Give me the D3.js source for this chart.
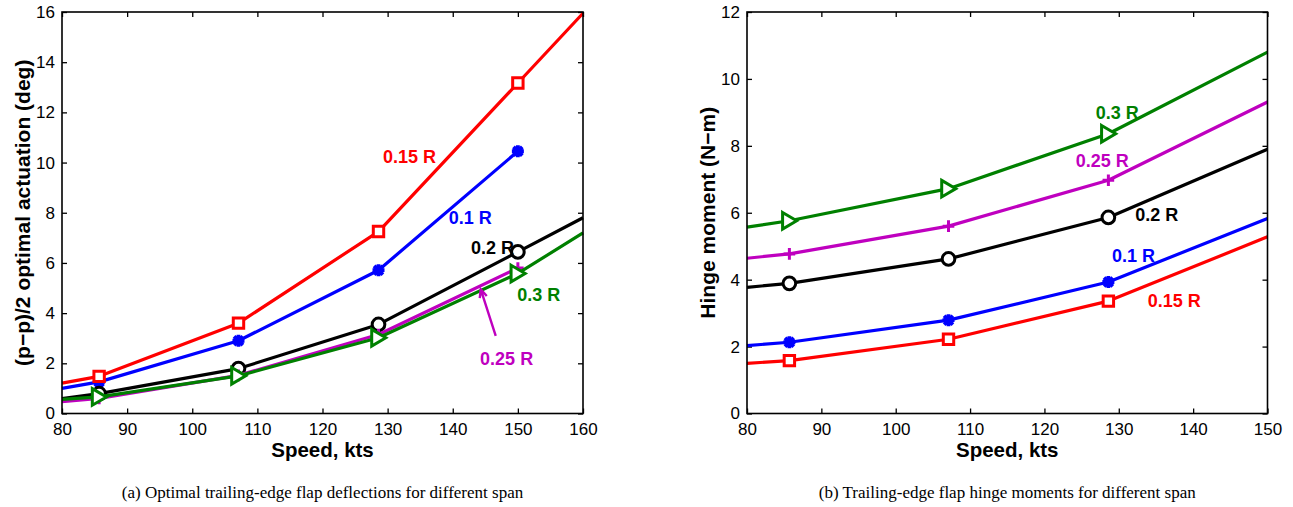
<!DOCTYPE html>
<html>
<head>
<meta charset="utf-8">
<script src="https://cdn.jsdelivr.net/npm/d3@7"></script>
<style>
  body { margin: 0; background: #fff; }
  svg { display: block; }
</style>
</head>
<body>
<svg id="fig" width="1293" height="507"></svg>
<script>
// ---- Panel (a): optimal trailing-edge flap deflection vs speed ----
const speedsA = [80, 85.7, 107.1, 128.6, 150, 160];
const deflA_01  = [1.00, 1.26, 2.90, 5.71, 10.45];
const deflA_015 = [1.21, 1.48, 3.60, 7.25, 13.17, 15.95];
const deflA_02  = [0.59, 0.79, 1.79, 3.55, 6.44, 7.80];
const deflA_025 = [0.47, 0.60, 1.52, 3.15, 5.80];
const deflA_03  = [0.56, 0.66, 1.50, 3.02, 5.58, 7.20];
const xTicksA = [80, 90, 100, 110, 120, 130, 140, 150, 160];
const yTicksA = [0, 2, 4, 6, 8, 10, 12, 14, 16];

// ---- Panel (b): trailing-edge flap hinge moment vs speed ----
const speedsB = [80, 85.7, 107.1, 128.6, 150];
const hingeB_01  = [2.03, 2.13, 2.79, 3.93, 5.83];
const hingeB_015 = [1.50, 1.58, 2.22, 3.36, 5.28];
const hingeB_02  = [3.77, 3.89, 4.62, 5.86, 7.90];
const hingeB_025 = [4.64, 4.77, 5.60, 6.97, 9.31];
const hingeB_03  = [5.57, 5.76, 6.72, 8.36, 10.80];
const xTicksB = [80, 90, 100, 110, 120, 130, 140, 150];
const yTicksB = [0, 2, 4, 6, 8, 10, 12];

// Speeds that carry a marker symbol
const markedA = [85.7, 107.1, 128.6, 150];
const markedB = [85.7, 107.1, 128.6];

const spanNames  = ["0.1 R", "0.15 R", "0.2 R", "0.25 R", "0.3 R"];
const spanColors = ["#0000ff", "#ff0000", "#000000", "#bf00bf", "#008000"];
const spanMarkers = ["asterisk", "square", "circle", "plus", "triangle"];

// Curve label anchors (data coordinates, left edge of text)
const labelPosA = [[139.4, 7.79], [129.3, 10.26], [142.8, 6.63], [144.2, 2.21], [149.9, 4.76]];
const labelPosB = [[129.1, 4.73], [133.9, 3.39], [132.2, 5.95], [124.2, 7.55], [126.9, 9.00]];

// Arrow pointing from the 0.25 R label to its curve (panel a), data coordinates
const arrowA = { from: [146.6, 3.09], to: [144.3, 4.95] };

const captionA = "(a) Optimal trailing-edge flap deflections for different span";
const captionB = "(b) Trailing-edge flap hinge moments for different span";

const svg = d3.select("#fig");
const SANS = "'Liberation Sans', Arial, Helvetica, sans-serif";
const SERIF = "'Liberation Serif', 'Times New Roman', serif";

function markerPath(kind) {
  switch (kind) {
    case "square":   return "M-5.2,-5.2H5.2V5.2H-5.2Z";
    case "circle":   return d3.symbol(d3.symbolCircle, Math.PI * 40)();
    case "plus":     return "M-5.8,0H5.8M0,-5.8V5.8";
    case "triangle": return "M-6.8,-8.3L7.3,0L-6.8,8.3Z";
    case "asterisk": return "M-6,0H6M0,-6V6M-4.4,-4.4L4.4,4.4M-4.4,4.4L4.4,-4.4";
  }
}

function drawPanel(cfg) {
  const x = d3.scaleLinear().domain(cfg.xDomain).range([cfg.left, cfg.right]);
  const y = d3.scaleLinear().domain(cfg.yDomain).range([cfg.bottom, cfg.top]);
  const g = svg.append("g");

  // inward ticks on all four sides
  const axB = g.append("g").attr("transform", `translate(0,${cfg.bottom})`)
    .call(d3.axisBottom(x).tickValues(cfg.xTicks).tickFormat(d3.format("d"))
      .tickSizeInner(-5).tickSizeOuter(0).tickPadding(9));
  const axT = g.append("g").attr("transform", `translate(0,${cfg.top})`)
    .call(d3.axisTop(x).tickValues(cfg.xTicks).tickFormat("").tickSizeInner(-5).tickSizeOuter(0));
  const axL = g.append("g").attr("transform", `translate(${cfg.left},0)`)
    .call(d3.axisLeft(y).tickValues(cfg.yTicks).tickFormat(d3.format("d"))
      .tickSizeInner(-5).tickSizeOuter(0).tickPadding(7));
  const axR = g.append("g").attr("transform", `translate(${cfg.right},0)`)
    .call(d3.axisRight(y).tickValues(cfg.yTicks).tickFormat("").tickSizeInner(-5).tickSizeOuter(0));
  [axB, axT, axL, axR].forEach(a => {
    a.select(".domain").remove();
    a.selectAll(".tick line").attr("stroke", "#000").attr("stroke-width", 1.3);
    a.selectAll(".tick text").attr("fill", "#000")
      .style("font-family", SANS).style("font-size", "17px");
  });

  // curves
  const line = d3.line().x(d => x(d[0])).y(d => y(d[1]));
  cfg.series.forEach((vals, i) => {
    const pts = vals.map((v, j) => [cfg.speeds[j], v]);
    g.append("path").datum(pts)
      .attr("d", line)
      .attr("fill", "none")
      .attr("stroke", spanColors[i])
      .attr("stroke-width", 3.2)
      .attr("stroke-linejoin", "round");
    const marked = pts.filter(p => cfg.marked.includes(p[0]));
    g.selectAll(null).data(marked).enter().append("path")
      .attr("transform", d => `translate(${x(d[0])},${y(d[1])})`)
      .attr("d", markerPath(spanMarkers[i]))
      .attr("fill", spanMarkers[i] === "asterisk" ? "none" : "#fff")
      .attr("stroke", spanColors[i])
      .attr("stroke-width", spanMarkers[i] === "asterisk" ? 3.8 : 3);
  });

  // curve labels
  cfg.labels.forEach((p, i) => {
    g.append("text")
      .attr("x", x(p[0])).attr("y", y(p[1]))
      .attr("dy", "0.36em")
      .attr("fill", spanColors[i])
      .style("font-family", SANS).style("font-size", "18px").style("font-weight", "bold")
      .text(spanNames[i]);
  });

  if (cfg.arrow) {
    const a = cfg.arrow;
    const x0 = x(a.from[0]), y0 = y(a.from[1]), x1 = x(a.to[0]), y1 = y(a.to[1]);
    const ang = Math.atan2(y1 - y0, x1 - x0);
    const L = 9, w = 0.42;
    const h1 = [x1 - L * Math.cos(ang - w), y1 - L * Math.sin(ang - w)];
    const h2 = [x1 - L * Math.cos(ang + w), y1 - L * Math.sin(ang + w)];
    g.append("path")
      .attr("d", `M${x0},${y0}L${x1},${y1}M${h1[0]},${h1[1]}L${x1},${y1}L${h2[0]},${h2[1]}`)
      .attr("fill", "none").attr("stroke", spanColors[3]).attr("stroke-width", 2.4);
  }

  // axes box
  g.append("rect")
    .attr("x", cfg.left).attr("y", cfg.top)
    .attr("width", cfg.right - cfg.left).attr("height", cfg.bottom - cfg.top)
    .attr("fill", "none").attr("stroke", "#000").attr("stroke-width", 1.6);

  // axis titles
  const cx = (cfg.left + cfg.right) / 2, cy = (cfg.top + cfg.bottom) / 2;
  g.append("text")
    .attr("x", cx).attr("y", 456.5).attr("text-anchor", "middle")
    .style("font-family", SANS).style("font-size", "20.5px").style("font-weight", "bold")
    .text("Speed, kts");
  g.append("text")
    .attr("transform", `translate(${cfg.left - 32},${cy}) rotate(-90)`)
    .attr("text-anchor", "middle")
    .style("font-family", SANS).style("font-size", "21px").style("font-weight", "bold")
    .text(cfg.yTitle);

  // caption
  svg.append("text")
    .attr("x", cx).attr("y", 498).attr("text-anchor", "middle")
    .style("font-family", SERIF).style("font-size", "17px")
    .text(cfg.caption);
}

drawPanel({
  left: 62, right: 583, top: 12, bottom: 413.5,
  xDomain: [80, 160], yDomain: [0, 16],
  xTicks: xTicksA, yTicks: yTicksA,
  speeds: speedsA, marked: markedA,
  series: [deflA_01, deflA_015, deflA_02, deflA_025, deflA_03],
  labels: labelPosA, arrow: arrowA,
  yTitle: "(p\u2212p)/2 optimal actuation (deg)",
  caption: captionA
});

drawPanel({
  left: 747, right: 1267.5, top: 12, bottom: 413.5,
  xDomain: [80, 150], yDomain: [0, 12],
  xTicks: xTicksB, yTicks: yTicksB,
  speeds: speedsB, marked: markedB,
  series: [hingeB_01, hingeB_015, hingeB_02, hingeB_025, hingeB_03],
  labels: labelPosB, arrow: null,
  yTitle: "Hinge moment (N\u2212m)",
  caption: captionB
});
</script>
</body>
</html>
